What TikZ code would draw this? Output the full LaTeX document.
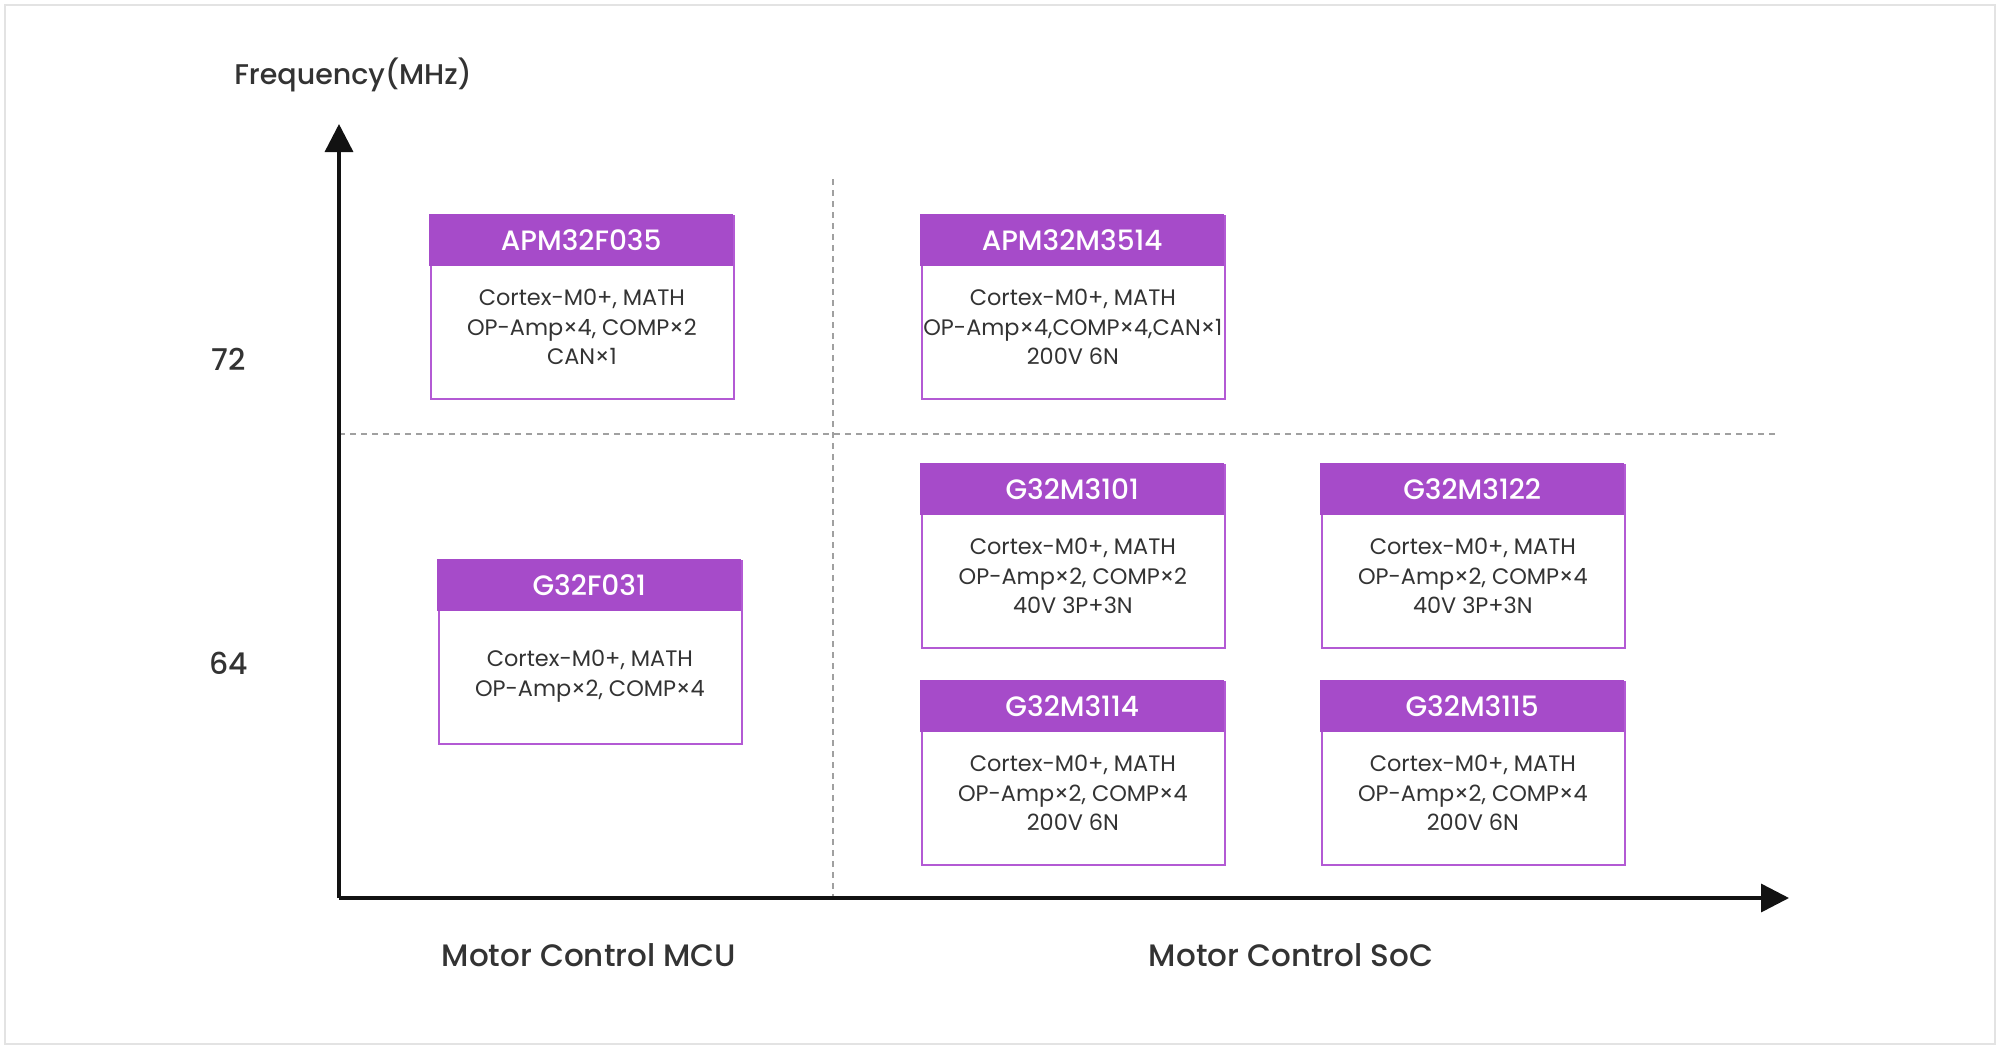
\documentclass[tikz,border=0pt]{standalone}
\usepackage{fontspec}
\setmainfont{Poppins}
\newfontfamily\medfont{Poppins Medium}
\usetikzlibrary{arrows.meta,calc}
\definecolor{hdrpurple}{HTML}{A64BC9}
\definecolor{edgepurple}{HTML}{B35AD4}
\definecolor{txtgray}{HTML}{333333}
\definecolor{framegray}{HTML}{E3E3E3}
\definecolor{dashgray}{HTML}{A0A0A0}
\tikzset{
  chipbody/.style={draw=edgepurple, line width=2pt, fill=white, anchor=north west,
    minimum width=303pt, minimum height=183pt, inner sep=0pt},
  chiphead/.style={fill=hdrpurple, anchor=north west, minimum width=304pt,
    minimum height=52pt, inner sep=0pt, text=white,
    font=\medfont\fontsize{28}{30}\selectfont},
  chiptext/.style={text=txtgray, align=center, inner sep=0pt,
    font=\fontsize{22.4}{29.5}\selectfont},
  axislbl/.style={text=txtgray, font=\medfont\fontsize{28.5}{32}\selectfont},
  catlbl/.style={text=txtgray, font=\medfont\fontsize{31}{34}\selectfont},
  ticklbl/.style={text=txtgray, font=\medfont\fontsize{30}{32}\selectfont},
  axisline/.style={line width=3.5pt, draw=black!93, -{Triangle[length=28pt,width=28pt]}},
  gridline/.style={dashgray, line width=1.8pt, dash pattern=on 6pt off 5pt},
}
\newcommand\chipbox[5]{%
  \node[chipbody] (#1) at (#2) {};
  \node[chiphead] (#1h) at ([xshift=-1pt,yshift=1pt]#1.north west) {#3};
  \node[chiptext] (#1t) at ([yshift=#5]$(#1h.south)!0.5!(#1.south)$) {#4};
}
\begin{document}
\begin{tikzpicture}[x=1pt,y=-1pt]
\useasboundingbox (0,0) rectangle (2000,1050);
\draw[framegray, line width=2pt] (5,5) rectangle (1995,1044);

% grid
\coordinate (vtop) at (833,179);
\coordinate (vbot) at (833,898);
\coordinate (hl) at (339,434);
\coordinate (hr) at (1775,434);
\draw[gridline] (vtop) -- (vbot);
\draw[gridline] (hl) -- (hr);

% axes
\coordinate (origin) at (339,898);
\coordinate (ytip) at (339,124);
\coordinate (xtip) at (1789,898);
\draw[axisline] (origin) -- (ytip);
\draw[axisline] (origin) -- (xtip);

\node[axislbl] (freq) at (353,75) {Frequency(MHz)};
\node[ticklbl] (t72) at (229,359) {72};
\node[ticklbl] (t64) at (229,663) {64};
\node[catlbl] (mcu) at (589,955) {Motor Control MCU};
\node[catlbl] (soc) at (1291,955) {Motor Control SoC};

\chipbox{a}{430,215}{APM32F035}{Cortex-M0+, MATH\\OP-Amp×4, COMP×2\\CAN×1}{6pt}
\chipbox{b}{921,215}{APM32M3514}{Cortex-M0+, MATH\\OP-Amp×4,COMP×4,CAN×1\\200V 6N}{6pt}
\chipbox{c}{921,464}{G32M3101}{Cortex-M0+, MATH\\OP-Amp×2, COMP×2\\40V 3P+3N}{6pt}
\chipbox{d}{1321,464}{G32M3122}{Cortex-M0+, MATH\\OP-Amp×2, COMP×4\\40V 3P+3N}{6pt}
\chipbox{e}{438,560}{G32F031}{Cortex-M0+, MATH\\OP-Amp×2, COMP×4}{2pt}
\chipbox{f}{921,681}{G32M3114}{Cortex-M0+, MATH\\OP-Amp×2, COMP×4\\200V 6N}{6pt}
\chipbox{g}{1321,681}{G32M3115}{Cortex-M0+, MATH\\OP-Amp×2, COMP×4\\200V 6N}{6pt}
\end{tikzpicture}
\end{document}
